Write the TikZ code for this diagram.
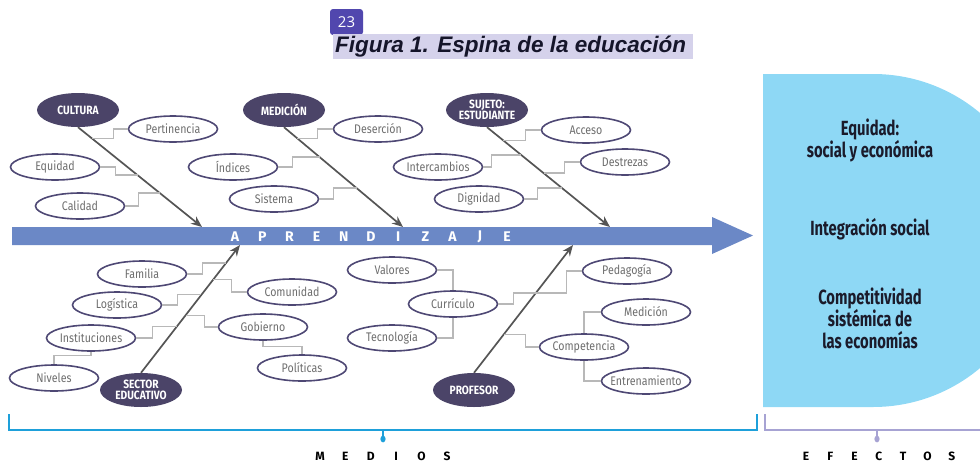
\documentclass[tikz,border=0pt]{standalone}
\usepackage{fontspec}
\setmainfont{Fira Sans}
\newfontfamily\condf[FakeStretch=0.85]{Fira Sans}
\newfontfamily\boxf[FakeStretch=0.72]{Fira Sans}
\newfontfamily\titlef{Liberation Sans}
\newfontfamily\badgef{Open Sans}
\usetikzlibrary{shapes.geometric,calc,arrows.meta}
\definecolor{darkn}{HTML}{4B4468}
\definecolor{edgec}{HTML}{4E4874}
\definecolor{lighttxt}{HTML}{6E6E6E}
\definecolor{spinec}{HTML}{6B88C6}
\definecolor{boxblue}{HTML}{8ED8F5}
\definecolor{connc}{HTML}{B8B8B8}
\definecolor{bonec}{HTML}{555555}
\definecolor{medc}{HTML}{1EA0DA}
\definecolor{efc}{HTML}{A7A3D3}
\definecolor{badgec}{HTML}{5147AE}
\definecolor{titlebg}{HTML}{D5D2EB}
\definecolor{titletxt}{HTML}{15152A}
\definecolor{boxtxtc}{HTML}{1B1B2B}
\begin{document}
\begin{tikzpicture}[x=1pt,y=-1pt,
  darknode/.style={ellipse, fill=darkn, minimum width=82pt, minimum height=34pt, inner sep=0pt, text=white, align=center,
    font=\condf\bfseries\fontsize{12}{11.5}\selectfont},
  lightnode/.style={ellipse, draw=edgec, line width=1.6pt, fill=white, minimum width=89pt, minimum height=26pt, inner sep=0pt,
    text=lighttxt, font=\condf\fontsize{12.5}{12.5}\selectfont},
  bone/.style={draw=bonec, line width=1.7pt, -{Stealth[length=11pt,width=9pt]}},
  conn/.style={draw=connc, line width=1.3pt},
  spinetxt/.style={text=white, inner sep=0pt, font=\bfseries\fontsize{14}{14}\selectfont},
  basetxt/.style={text=black, inner sep=0pt, font=\bfseries\fontsize{12}{12}\selectfont},
  boxtxt/.style={text=boxtxtc, align=center, inner sep=0pt, font=\boxf\bfseries\fontsize{20.5}{22}\selectfont},
]
\useasboundingbox (0,0) rectangle (980,464);
\clip (0,0) rectangle (980,464);

% title
\node[fill=badgec, rounded corners=3pt, minimum width=33pt, minimum height=26pt, inner sep=0pt, text=white,
  font=\badgef\fontsize{15}{15}\selectfont] (badge) at (346.5,22) {23};
\node[fill=titlebg, minimum width=360pt, minimum height=25pt, inner sep=0pt, anchor=west, text=titletxt,
  font=\titlef\bfseries\itshape\fontsize{22.5}{22.5}\selectfont] (title) at (333,46.5) {\makebox[356pt][l]{Figura 1. Espina de la educación}};

% effects box
\fill[boxblue] (763,74) -- (873,74) arc[start angle=-90, end angle=90, radius=166.5] -- (763,407) -- cycle;
\node[boxtxt] (eq) at (870,140) {Equidad:\\social y económica};
\node[boxtxt] (integ) at (870,229) {Integración social};
\node[boxtxt] (compet) at (870,318) {Competitividad\\sistémica de\\las economías};

% spine
\fill[spinec] (12,227) -- (712,227) -- (712,217) -- (753,235.5) -- (712,254) -- (712,245) -- (12,245) -- cycle;
\foreach \l [count=\i from 0] in {A,P,R,E,N,D,I,Z,A,J,E}
  \node[spinetxt] (sp\i) at (235+27.2*\i,236.5) {\l};

% tips on spine
\coordinate (t1) at (202,227);
\coordinate (t2) at (403,227);
\coordinate (t3) at (610,227);
\coordinate (t4) at (240,245);
\coordinate (t5) at (573,245);

% main categories
\node[darknode] (cultura) at (78,110) {CULTURA};
\node[darknode] (medicion) at (284,110) {MEDICIÓN};
\node[darknode] (sujeto) at (487,110) {SUJETO:\\ESTUDIANTE};
\node[darknode] (sector) at (141,390) {SECTOR\\EDUCATIVO};
\node[darknode] (profesor) at (474,390) {PROFESOR};

\draw[bone] (cultura.south) -- (t1);
\draw[bone] (medicion.south) -- (t2);
\draw[bone] (sujeto.south) -- (t3);
\draw[bone] (sector.north) -- (t4);
\draw[bone] (profesor.north) -- (t5);

% sub causes
\node[lightnode] (pert) at (173,129) {\makebox[0pt]{Pertinencia}};
\node[lightnode] (equi) at (55,167) {\makebox[0pt]{Equidad}};
\node[lightnode] (cali) at (80,206) {\makebox[0pt]{Calidad}};
\node[lightnode] (deser) at (378,129) {\makebox[0pt]{Deserción}};
\node[lightnode] (indi) at (233,167) {\makebox[0pt]{Índices}};
\node[lightnode] (sist) at (274,199) {\makebox[0pt]{Sistema}};
\node[lightnode] (acce) at (586,130) {\makebox[0pt]{Acceso}};
\node[lightnode] (inter) at (438,167) {\makebox[0pt]{Intercambios}};
\node[lightnode] (destr) at (625,162) {\makebox[0pt]{Destrezas}};
\node[lightnode] (digni) at (479,199) {\makebox[0pt]{Dignidad}};
\node[lightnode] (fam) at (142,274) {\makebox[0pt]{Familia}};
\node[lightnode] (logi) at (117,305) {\makebox[0pt]{Logística}};
\node[lightnode] (inst) at (91,338) {\makebox[0pt]{Instituciones}};
\node[lightnode] (nive) at (54,378) {\makebox[0pt]{Niveles}};
\node[lightnode] (comu) at (292,292) {\makebox[0pt]{Comunidad}};
\node[lightnode] (gobi) at (263,327) {\makebox[0pt]{Gobierno}};
\node[lightnode] (poli) at (302,368) {\makebox[0pt]{Políticas}};
\node[lightnode] (valo) at (392,270) {\makebox[0pt]{Valores}};
\node[lightnode] (tecn) at (392,338) {\makebox[0pt]{Tecnología}};
\node[lightnode] (curr) at (453,304) {\makebox[0pt]{Currículo}};
\node[lightnode] (peda) at (627,271) {\makebox[0pt]{Pedagogía}};
\node[lightnode] (medi) at (646,312) {\makebox[0pt]{Medición}};
\node[lightnode] (comp) at (584,347) {\makebox[0pt]{Competencia}};
\node[lightnode] (entr) at (646,381) {\makebox[0pt]{Entrenamiento}};

% connectors
\draw[conn] (pert.west) -- ++(-14,0) |- ($(cultura.south)!0.11!(t1)$);
\draw[conn] (equi.east) -- ++(15,0) |- ($(cultura.south)!0.48!(t1)$);
\draw[conn] (cali.east) -- ++(13,0) |- ($(cultura.south)!0.66!(t1)$);
\draw[conn] (deser.west) -- ++(-15,0) |- ($(medicion.south)!0.11!(t2)$);
\draw[conn] (indi.east) -- ++(14,0) |- ($(medicion.south)!0.30!(t2)$);
\draw[conn] (sist.east) -- ++(14,0) |- ($(medicion.south)!0.61!(t2)$);
\draw[conn] (acce.west) -- ++(-15,0) |- ($(sujeto.south)!0.13!(t3)$);
\draw[conn] (inter.east) -- ++(8,0) |- ($(sujeto.south)!0.28!(t3)$);
\draw[conn] (destr.west) -- ++(-15,0) |- ($(sujeto.south)!0.46!(t3)$);
\draw[conn] (digni.east) -- ++(13,0) |- ($(sujeto.south)!0.61!(t3)$);
\draw[conn] (fam.east) -- ++(15,0) |- ($(sector.north)!0.86!(t4)$);
\draw[conn] (logi.east) -- ++(15,0) |- ($(sector.north)!0.61!(t4)$);
\draw[conn] (inst.east) -- ++(16,0) |- ($(sector.north)!0.36!(t4)$);
\draw[conn] (nive.north) -- ++(0,-9) -| (inst.south);
\draw[conn] (comu.west) -- ++(-15,0) |- ($(sector.north)!0.73!(t4)$);
\draw[conn] (gobi.west) -- ++(-13,0) |- ($(sector.north)!0.45!(t4)$);
\draw[conn] (gobi.south) -- ++(0,6) -| (poli.north);
\draw[conn] (valo.east) -| (curr.north);
\draw[conn] (tecn.east) -| (curr.south);
\draw[conn] (curr.east) -- ++(15,0) -- ++(0,-11) -| ($(peda.west)+(-15,0)$) -- (peda.west);
\draw[conn] (comp.west) -- ++(-13,0) |- ($(profesor.north)!0.30!(t5)$);
\draw[conn] (comp.north) |- (medi.west);
\draw[conn] (comp.south) |- (entr.west);

% brackets
\draw[medc, line width=1.8pt] (9,414) -- (9,430) -- (757,430) -- (757,414);
\draw[medc, line width=1.8pt] (383,430) -- (383,437);
\fill[medc] (383,439) ellipse (2.6 and 3.4);
\draw[efc, line width=1.8pt] (765,414) -- (765,430) -- (990,430);
\draw[efc, line width=1.8pt] (877,430) -- (877,437);
\fill[efc] (877,439) ellipse (2.6 and 3.4);
\foreach \l [count=\i from 0] in {M,E,D,I,O,S}
  \node[basetxt] (me\i) at (320+25.4*\i,456) {\l};
\foreach \l [count=\i from 0] in {E,F,E,C,T,O,S}
  \node[basetxt] (ef\i) at (806+24.3*\i,456) {\l};
\end{tikzpicture}
\end{document}
